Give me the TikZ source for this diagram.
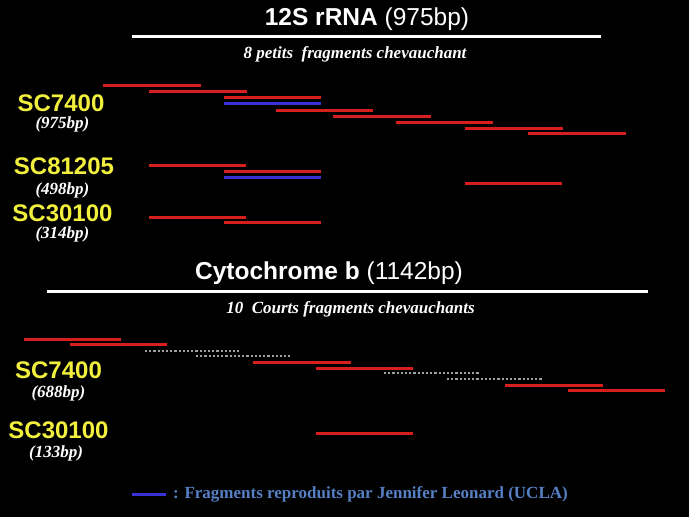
\documentclass[tikz,border=0pt]{standalone}
\usepackage{fontspec}
\setmainfont{Liberation Serif}
\setsansfont{Liberation Sans}
\usepackage{tikz}
\usetikzlibrary{positioning}
\definecolor{fragred}{HTML}{D91E1E}
\definecolor{fragblue}{HTML}{3A32D6}
\definecolor{fraggray}{HTML}{A0A0A0}
\definecolor{samplecol}{HTML}{F2F03C}
\definecolor{legendcol}{HTML}{5580C4}
\tikzset{
  titlenode/.style={inner sep=0pt,text=white,font=\sffamily\fontsize{24.5}{28}\selectfont},
  subnode/.style={inner sep=0pt,text=white,font=\bfseries\itshape\fontsize{17}{19}\selectfont},
  samplenode/.style={inner sep=0pt,text=samplecol,font=\sffamily\bfseries\fontsize{24}{26}\selectfont},
  sizenode/.style={inner sep=0pt,text=white,font=\bfseries\itshape\fontsize{17}{19}\selectfont},
  rule/.style={white,line width=3.5pt},
  redfrag/.style={fragred,line width=3pt},
  bluefrag/.style={fragblue,line width=3pt},
  grayfrag/.style={fraggray,line width=2.2pt,dash pattern=on 2.2pt off 2pt}
}
\begin{document}
\begin{tikzpicture}[x=1pt,y=-1pt]
  \fill[black] (0,0) rectangle (689,517);
  \useasboundingbox (0,0) rectangle (689,517);

  % 12S rRNA
  \node[titlenode] (title12s) at (367,19) {\textbf{12S rRNA} (975bp)};
  \draw[rule] (131.5,36.7) -- (601,36.7);
  \node[subnode] (sub12s) at (355,54) {8 petits\ \ fragments chevauchant};

  \node[samplenode] (sc7400a) at (61,103) {SC7400};
  \node[sizenode] (bp975) at (62.5,124) {(975bp)};
  \node[samplenode] (sc81205) at (64,166) {SC81205};
  \node[sizenode] (bp498) at (62.5,190) {(498bp)};
  \node[samplenode] (sc30100a) at (62.5,213.5) {SC30100};
  \node[sizenode] (bp314) at (62.5,234.5) {(314bp)};

  \foreach \xa/\xb/\y in {103/201/85.5, 149/247/91, 224/321/97.3, 276/373/110,
      333/431/116.5, 396/493/122.3, 465/563/128, 528/626/133.7}
    \draw[redfrag] (\xa,\y) -- (\xb,\y);
  \draw[bluefrag] (224,103) -- (321,103);

  \foreach \xa/\xb/\y in {149/246/165.3, 224/321/171.3, 465/562/183}
    \draw[redfrag] (\xa,\y) -- (\xb,\y);
  \draw[bluefrag] (224,177.3) -- (321,177.3);

  \draw[redfrag] (149,217.7) -- (246,217.7);
  \draw[redfrag] (224,222) -- (321,222);

  % Cytochrome b
  \node[titlenode] (titlecytb) at (329,272.7) {\textbf{Cytochrome b} (1142bp)};
  \draw[rule] (47,291.7) -- (648,291.7);
  \node[subnode] (subcytb) at (350.5,309) {10\ \ Courts fragments chevauchants};

  \node[samplenode] (sc7400b) at (58.5,370.5) {SC7400};
  \node[sizenode] (bp688) at (58.5,393) {(688bp)};
  \node[samplenode] (sc30100b) at (58.5,430) {SC30100};
  \node[sizenode] (bp133) at (56,453) {(133bp)};

  \foreach \xa/\xb/\y in {24/121/339.3, 70/167/344.7, 253/351/362, 316/413/368,
      505/603/385, 568/665/390.7, 316/413/433.7}
    \draw[redfrag] (\xa,\y) -- (\xb,\y);
  \foreach \xa/\xb/\y in {145/239/350.7, 196/290/356, 384/480/373.3, 447/543/379.3}
    \draw[grayfrag] (\xa,\y) -- (\xb,\y);

  % Legend
  \coordinate (legstart) at (131.5,494.3);
  \coordinate (legend) at (166,494.3);
  \draw[bluefrag] (legstart) -- (legend);
  \node[inner sep=0pt,anchor=west,text=legendcol,font=\bfseries\fontsize{17}{19}\selectfont]
    (legtext) at (173,494.3) {: Fragments reproduits par Jennifer Leonard (UCLA)};
\end{tikzpicture}
\end{document}
